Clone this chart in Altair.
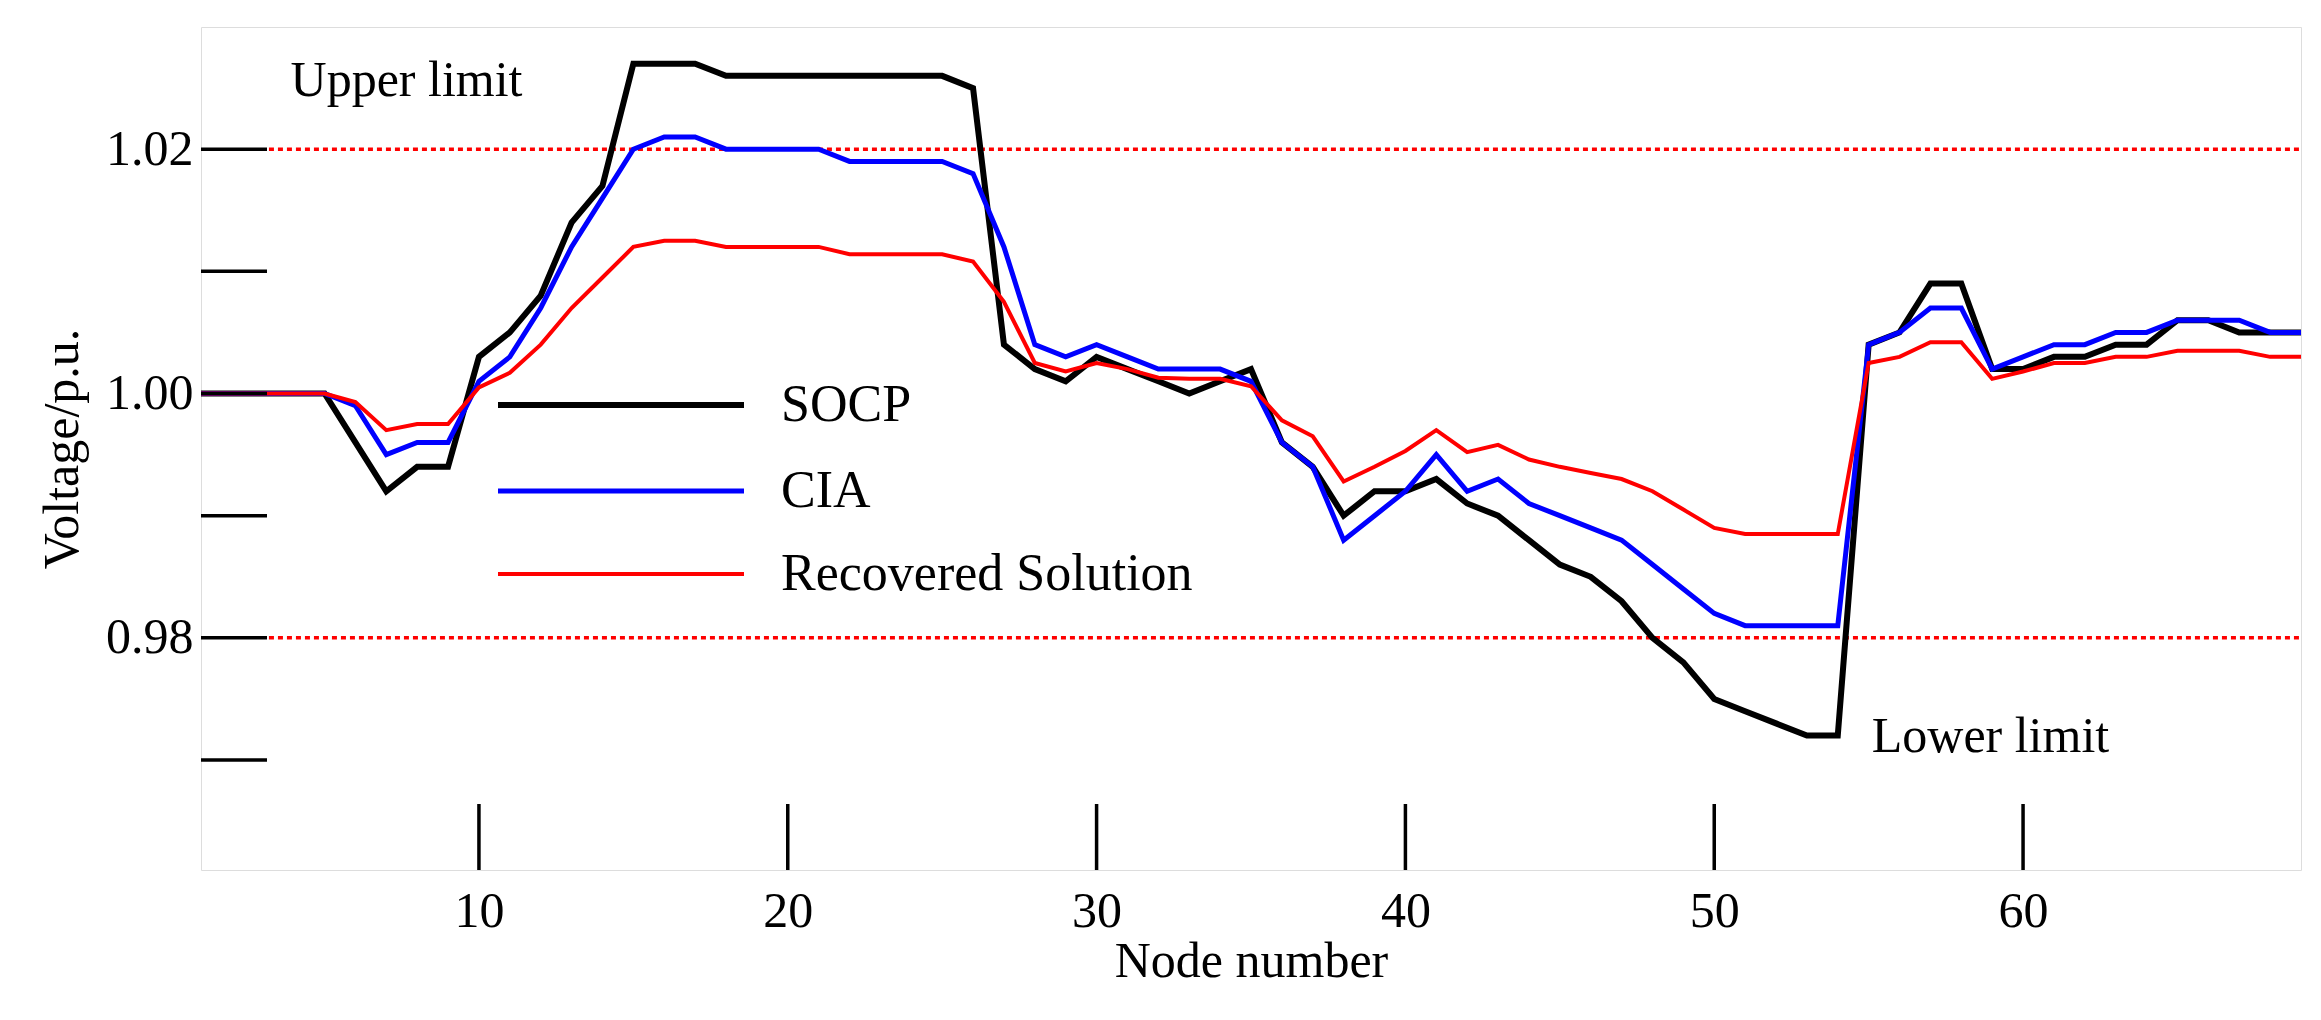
import altair as alt
import pandas as pd

nodes = list(range(1, 70))
socp = [1.0,1.0,1.0,1.0,1.0,0.996,0.992,0.994,0.994,1.003,1.005,1.008,1.014,1.017,1.027,1.027,1.027,1.026,1.026,1.026,
        1.026,1.026,1.026,1.026,1.026,1.025,1.004,1.002,1.001,1.003,1.002,1.001,1.000,1.001,1.002,0.996,0.994,0.990,0.992,0.992,
        0.993,0.991,0.990,0.988,0.986,0.985,0.983,0.980,0.978,0.975,0.974,0.973,0.972,0.972,1.004,1.005,1.009,1.009,1.002,1.002,
        1.003,1.003,1.004,1.004,1.006,1.006,1.005,1.005,1.005]
cia = [1.0,1.0,1.0,1.0,1.0,0.999,0.995,0.996,0.996,1.001,1.003,1.007,1.012,1.016,1.020,1.021,1.021,1.020,1.020,1.020,
       1.020,1.019,1.019,1.019,1.019,1.018,1.012,1.004,1.003,1.004,1.003,1.002,1.002,1.002,1.001,0.996,0.994,0.988,0.990,0.992,
       0.995,0.992,0.993,0.991,0.990,0.989,0.988,0.986,0.984,0.982,0.981,0.981,0.981,0.981,1.004,1.005,1.007,1.007,1.002,1.003,
       1.004,1.004,1.005,1.005,1.006,1.006,1.006,1.005,1.005]
rec = [1.0,1.0,1.0,1.0,1.0,0.9993,0.997,0.9975,0.9975,1.0005,1.0017,1.004,1.007,1.0095,1.012,1.0125,1.0125,1.012,1.012,1.012,
       1.012,1.0114,1.0114,1.0114,1.0114,1.0108,1.0075,1.0025,1.0018,1.0025,1.002,1.0013,1.0012,1.0012,1.0006,0.9978,0.9965,0.9928,0.994,0.9953,
       0.997,0.9952,0.9958,0.9946,0.994,0.9935,0.993,0.992,0.9905,0.989,0.9885,0.9885,0.9885,0.9885,1.0025,1.003,1.0042,1.0042,1.0012,1.0018,
       1.0025,1.0025,1.003,1.003,1.0035,1.0035,1.0035,1.003,1.003]
series_names = ["SOCP", "CIA", "Recovered Solution"]
series_colors = ["#000000", "#0000ff", "#ff0000"]
series_widths = [6, 4, 6]
limits = [1.02, 0.98]
limit_labels = ["Upper limit", "Lower limit"]
limit_label_x = [3.9, 55.1]
limit_label_y = [1.0256, 0.9719]
y_ticks = [0.97, 0.98, 0.99, 1.0, 1.01, 1.02]
y_label_vals = [0.98, 1.0, 1.02]
x_ticks = [10, 20, 30, 40, 50, 60]
legend_rows_px = [378, 464, 547]

W, H = 2100, 843
FONT = "Liberation Serif"
xs = alt.Scale(domain=[1, 69], nice=False, zero=False)
ys = alt.Scale(domain=[0.961, 1.03], nice=False, zero=False)
cscale = alt.Scale(domain=series_names, range=series_colors)
wscale = alt.Scale(domain=series_names, range=series_widths)

rows = []
for name, vals in zip(series_names, [socp, cia, rec]):
    for n, v in zip(nodes, vals):
        rows.append({"node": n, "v": v, "s": name})
df = pd.DataFrame(rows)

base_x = alt.X("node:Q", scale=xs, title="Node number",
               axis=alt.Axis(values=x_ticks, ticks=False, domain=False, grid=False, labelFont=FONT,
                             labelFontSize=50, titleFont=FONT, titleFontSize=50, titleFontWeight="normal",
                             labelPadding=16, titlePadding=0, labelColor="black", titleColor="black"))
base_y = alt.Y("v:Q", scale=ys, title="Voltage/p.u.",
               axis=alt.Axis(values=y_label_vals, format=".2f", ticks=False, domain=False, grid=False,
                             labelFont=FONT, labelFontSize=50, titleFont=FONT, titleFontSize=50,
                             titleFontWeight="normal", labelPadding=8, titlePadding=18,
                             labelColor="black", titleColor="black"))

lim_df = pd.DataFrame({"y": limits, "x1": [3.2, 3.2], "x2": [69, 69]})
limit_lines = alt.Chart(lim_df).mark_rule(color="#ff0000", strokeWidth=3.5, strokeDash=[5, 4]).encode(
    x=alt.X("x1:Q", scale=xs), x2="x2:Q", y=alt.Y("y:Q", scale=ys))

lines = alt.Chart(df).mark_line(strokeJoin="miter").encode(
    x=base_x, y=base_y,
    color=alt.Color("s:N", scale=cscale, legend=None),
    strokeWidth=alt.StrokeWidth("s:N", scale=wscale, legend=None),
    order=alt.Order("node:Q"))

leg_df = pd.DataFrame({"s": series_names, "py": legend_rows_px})
leg_lines = alt.Chart(leg_df).mark_rule().encode(
    x=alt.value(297), x2=alt.value(543), y=alt.Y("py:Q", scale=None),
    color=alt.Color("s:N", scale=cscale, legend=None),
    strokeWidth=alt.StrokeWidth("s:N", scale=wscale, legend=None))
leg_text = alt.Chart(leg_df).mark_text(align="left", baseline="middle", font=FONT, fontSize=52, color="black").encode(
    x=alt.value(580), y=alt.Y("py:Q", scale=None), text="s:N")

txt_df = pd.DataFrame({"t": limit_labels, "x": limit_label_x, "y": limit_label_y})
texts = alt.Chart(txt_df).mark_text(align="left", baseline="middle", font=FONT, fontSize=50, color="black").encode(
    x=alt.X("x:Q", scale=xs), y=alt.Y("y:Q", scale=ys), text="t:N")

yt = alt.Chart(pd.DataFrame({"y": y_ticks})).mark_rule(color="black", strokeWidth=3.5).encode(
    x=alt.value(0), x2=alt.value(66), y=alt.Y("y:Q", scale=ys))
xt = alt.Chart(pd.DataFrame({"x": x_ticks})).mark_rule(color="black", strokeWidth=3.5).encode(
    x=alt.X("x:Q", scale=xs), y=alt.value(H), y2=alt.value(H - 66))

chart = alt.layer(limit_lines, lines, leg_lines, leg_text, texts, yt, xt).properties(
    width=W, height=H, autosize=alt.AutoSizeParams(type="none"),
    padding={"left": 193, "top": 19, "right": 10, "bottom": 140}
).configure_view(stroke="black", strokeWidth=4).configure(background="white")

chart.save("out.html", embed_options={"renderer": "svg", "actions": False})
